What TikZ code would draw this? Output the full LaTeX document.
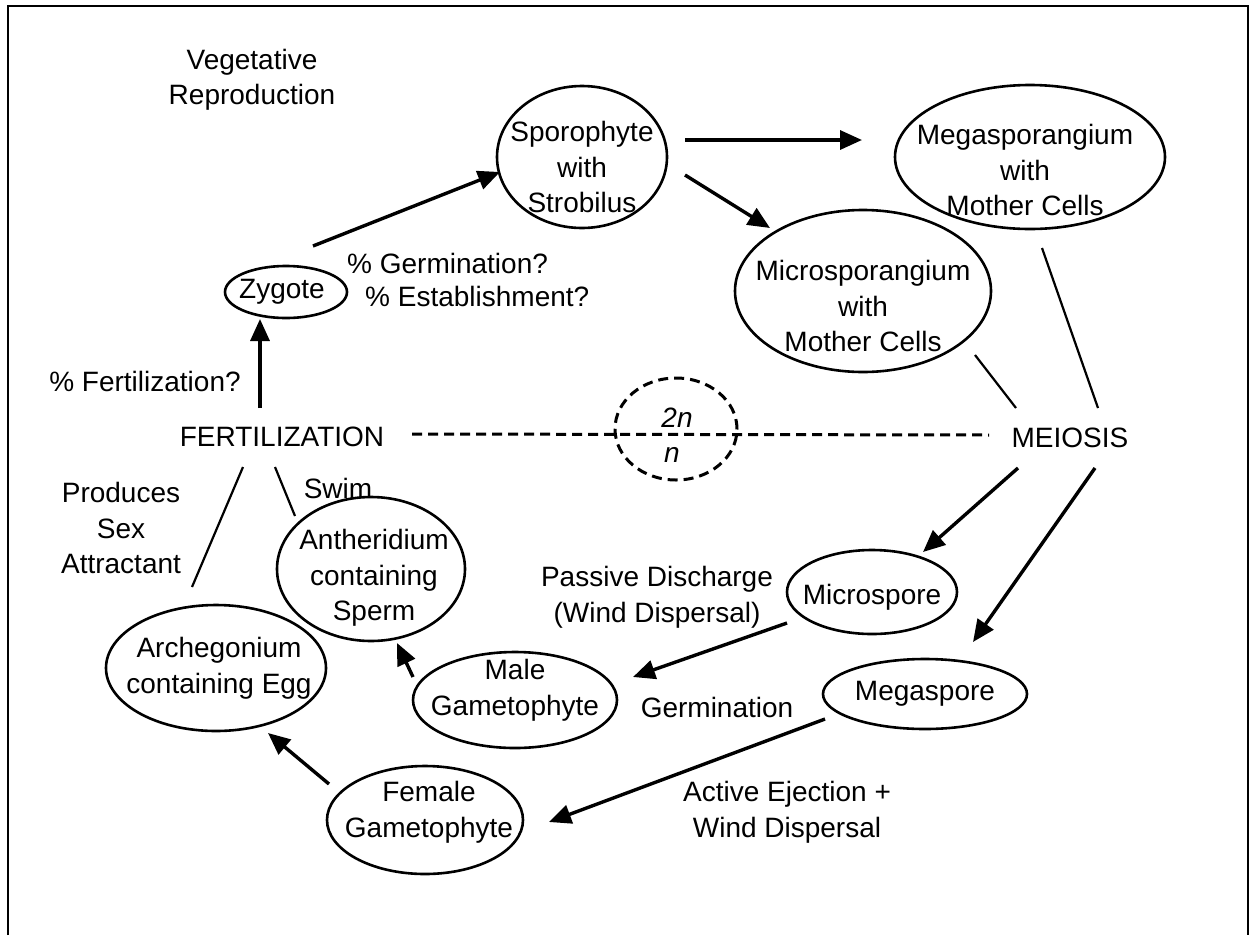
\documentclass[tikz,border=0pt]{standalone}
\usepackage{fontspec}
\setmainfont{Liberation Sans}
\usetikzlibrary{arrows.meta,shapes.geometric}
\begin{document}
\begin{tikzpicture}[x=1pt,y=-1pt,
  every node/.style={font=\fontsize{28}{35.5}\selectfont, align=center, inner sep=0pt},
  ell/.style n args={2}{draw, ellipse, line width=2.6pt, minimum width=#1pt, minimum height=#2pt},
  arr/.style={-{Triangle[length=22pt,width=19pt]}, line width=3.4pt},
  thinl/.style={line width=2.2pt},
  dashl/.style={line width=3pt, dash pattern=on 10pt off 6pt},
]
\useasboundingbox (0,0) rectangle (1250,935);
% frame
\draw[line width=2.7pt] (8,935) -- (8,6) -- (1248,6) -- (1248,935);

% ellipses
\node[ell={170}{142}, label={[yshift=-10pt]center:{Sporophyte\\with\\Strobilus}}] (spor) at (582,157) {};
\node[ell={270}{144}, label={[yshift=-13pt,xshift=-5pt]center:{Megasporangium\\with\\Mother Cells}}] (mega) at (1030,157) {};
\node[ell={256}{162}, label={[yshift=-15pt]center:{Microsporangium\\with\\Mother Cells}}] (micro) at (863,291) {};
\node[ell={122}{52}, label={[xshift=-4pt]center:Zygote}] (zyg) at (286,292) {};
\node[ell={188}{144}, label={[yshift=-9pt,xshift=3pt]center:{Antheridium\\containing\\Sperm}}] (anth) at (371,569) {};
\node[ell={220}{126}, label={[xshift=3pt]center:{Archegonium\\containing Egg}}] (arch) at (216,668) {};
\node[ell={204}{96}, label={[yshift=10pt]center:{Male\\Gametophyte}}] (male) at (515,700) {};
\node[ell={170}{84}, label={[yshift=-5pt]center:Microspore}] (micsp) at (872,592) {};
\node[ell={204}{70}, label={center:Megaspore}] (megsp) at (925,694) {};
\node[ell={196}{108}, label={[yshift=8pt,xshift=4pt]center:{Female\\Gametophyte}}] (female) at (425,820) {};

% texts
\node (veg) at (252,80) {Vegetative\\Reproduction};
\node[anchor=west] (germq) at (347,263) {\% Germination?};
\node[anchor=west] (estq) at (365,296) {\% Establishment?};
\node (fertq) at (145,381) {\% Fertilization?};
\node (fert) at (282,437) {FERTILIZATION};
\node (meio) at (1070,438) {MEIOSIS};
\node[draw, ellipse, dashl, minimum width=122pt, minimum height=102pt] (ploidy) at (676,429) {};
\node (two) at (677,418) {\itshape 2n};
\node (one) at (672,455) {\itshape n};
\node (prod) at (121,528) {Produces\\Sex\\Attractant};
\node (swim) at (338,488) {Swim};
\node (passive) at (657,597) {Passive Discharge\\(Wind Dispersal)};
\node (germ) at (717,707) {Germination};
\node (active) at (787,812) {Active Ejection +\\Wind Dispersal};

% connectors
\draw[arr] ([shift={(-22,-29)}]fert.center) -- ([shift={(-26,27)}]zyg.center);
\draw[arr] ([shift={(27,-46)}]zyg.center) -- ([shift={(-82,15)}]spor.center);
\draw[arr] ([shift={(103,-17)}]spor.center) -- ([shift={(-168,-17)}]mega.center);
\draw[arr] ([shift={(103,18)}]spor.center) -- ([shift={(-93,-63)}]micro.center);
\draw[thinl] ([shift={(12,91)}]mega.center) -- ([shift={(28,-30)}]meio.center);
\draw[thinl] ([shift={(112,64)}]micro.center) -- ([shift={(-54,-30)}]meio.center);
\draw[arr] ([shift={(-52,30)}]meio.center) -- ([shift={(51,-40)}]micsp.center);
\draw[arr] ([shift={(25,30)}]meio.center) -- ([shift={(48,-52)}]megsp.center);
\draw[arr] ([shift={(-85,31)}]micsp.center) -- ([shift={(118,-23)}]male.center);
\draw[arr] ([shift={(-100,25)}]megsp.center) -- ([shift={(124,2)}]female.center);
\draw[arr] ([shift={(-102,-23)}]male.center) -- ([shift={(26,74)}]anth.center);
\draw[arr] ([shift={(-96,-36)}]female.center) -- ([shift={(52,65)}]arch.center);
\draw[thinl] ([shift={(-39,30)}]fert.center) -- ([shift={(-24,-81)}]arch.center);
\draw[thinl] ([shift={(-7,30)}]fert.center) -- ([shift={(-76,-53)}]anth.center);
\draw[dashl] ([shift={(130,-3)}]fert.center) -- ([shift={(-81,-3)}]meio.center);
\end{tikzpicture}
\end{document}
